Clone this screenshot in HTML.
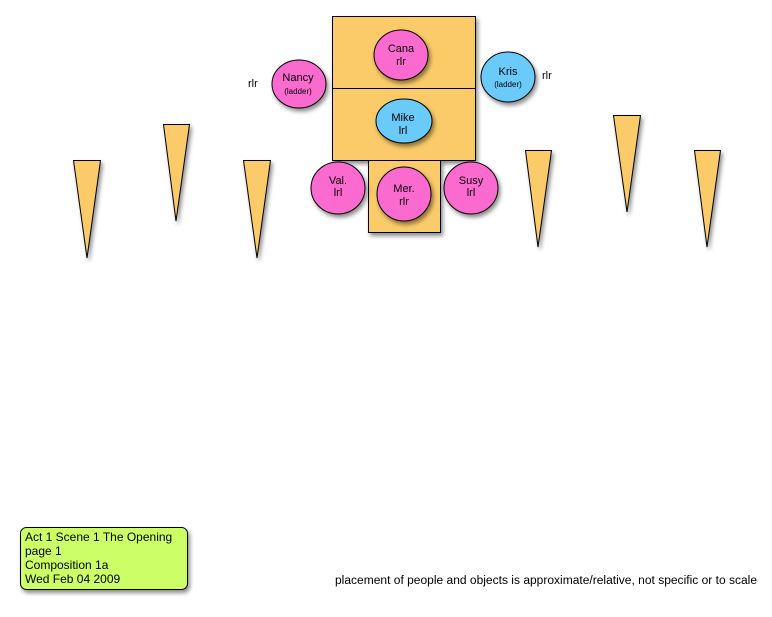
<!DOCTYPE html>
<html><head><style>
body{margin:0;background:#fff;width:772px;height:612px;overflow:hidden}
svg text{font-family:"Liberation Sans",sans-serif;fill:#000}
</style></head><body>
<svg width="772" height="612" xmlns="http://www.w3.org/2000/svg">
<defs><filter id="s" x="-20%" y="-20%" width="150%" height="160%"><feDropShadow dx="2" dy="3" stdDeviation="2" flood-opacity="0.45"/></filter></defs>
<g stroke="#000" stroke-width="1" fill="#fbcb6b" filter="url(#s)">
<rect x="332.5" y="16.5" width="143" height="72"/>
<rect x="332.5" y="88.5" width="143" height="72"/>
<rect x="368.5" y="160.5" width="72" height="72"/>
<polygon points="73.5,160.5 100.5,160.5 87,258"/>
<polygon points="163.5,124.5 189.5,124.5 176,221"/>
<polygon points="243.5,160.5 270.5,160.5 257,258"/>
<polygon points="525.5,150.5 551.5,150.5 538,247"/>
<polygon points="613.5,115.5 640.5,115.5 627,212"/>
<polygon points="694.5,150.5 720.5,150.5 707,247"/>
</g>
<g stroke="#000" stroke-width="1" filter="url(#s)">
<ellipse cx="401" cy="55" rx="27" ry="25" fill="#fb6bce"/>
<ellipse cx="299" cy="84" rx="27" ry="24" fill="#fb6bce"/>
<ellipse cx="508" cy="77" rx="27" ry="25" fill="#6bcbfb"/>
<ellipse cx="404" cy="121" rx="28" ry="22" fill="#6bcbfb"/>
<ellipse cx="338" cy="188" rx="27" ry="26" fill="#fb6bce"/>
<ellipse cx="404" cy="194" rx="27" ry="27" fill="#fb6bce"/>
<ellipse cx="471" cy="188" rx="27" ry="26" fill="#fb6bce"/>
</g>
<g font-size="11" text-anchor="middle">
<text x="401" y="52">Cana</text><text x="401" y="65">rlr</text>
<text x="298" y="81">Nancy</text><text x="298" y="94" font-size="8">(ladder)</text>
<text x="508" y="75">Kris</text><text x="508" y="87" font-size="8">(ladder)</text>
<text x="403" y="121">Mike</text><text x="403" y="134">lrl</text>
<text x="338" y="184">Val.</text><text x="338" y="196">lrl</text>
<text x="404" y="192">Mer.</text><text x="404" y="205">rlr</text>
<text x="471" y="184">Susy</text><text x="471" y="196">lrl</text>
</g>
<text x="248" y="87" font-size="11">rlr</text>
<text x="542" y="79" font-size="11">rlr</text>
<rect x="20.5" y="527.5" width="167" height="62" rx="6" fill="#ccff66" stroke="#000" filter="url(#s)"/>
<g font-size="12"><text x="25" y="541">Act 1 Scene 1 The Opening</text><text x="25" y="555">page 1</text><text x="25" y="569">Composition 1a</text><text x="25" y="583">Wed Feb 04 2009</text></g>
<text x="335" y="584" font-size="11.5" textLength="422" lengthAdjust="spacingAndGlyphs">placement of people and objects is approximate/relative, not specific or to scale</text>
</svg>
</body></html>
